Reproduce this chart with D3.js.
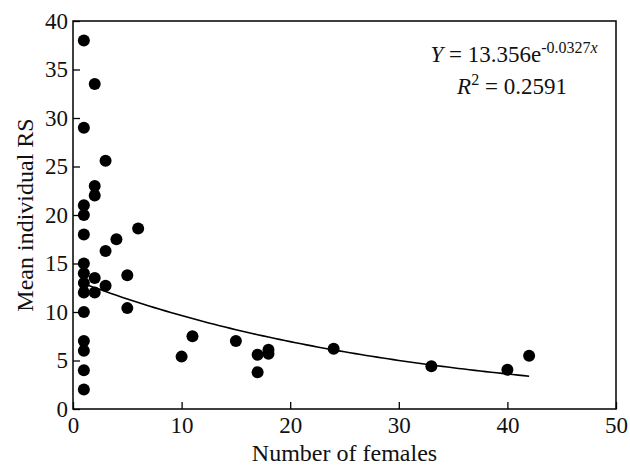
<!DOCTYPE html>
<html>
<head>
<meta charset="utf-8">
<script src="https://cdn.jsdelivr.net/npm/d3@7"></script>
<style>
  body { margin: 0; background: #fff; }
  svg { display: block; font-family: "Liberation Serif", "Times New Roman", serif; }
</style>
</head>
<body>
<svg id="chart" width="630" height="465"></svg>
<script>
// number of females per male and mean individual reproductive success
const females = [1, 1, 1, 1, 1, 1, 1, 1, 1, 1, 1, 1, 1, 1,
  2, 2, 2, 2, 2, 3, 3, 3, 4, 5, 5, 6,
  10, 11, 15, 17, 17, 18, 18, 24, 33, 40, 42];
const meanRS = [38, 29, 21, 20, 18, 15, 14, 13, 12, 10, 7, 6, 4, 2,
  33.5, 23, 22, 13.5, 12, 25.6, 16.3, 12.7, 17.5, 13.8, 10.4, 18.6,
  5.4, 7.5, 7.0, 5.6, 3.8, 6.1, 5.7, 6.2, 4.4, 4.05, 5.5];
const xTicks = [0, 10, 20, 30, 40, 50];
const yTicks = [0, 5, 10, 15, 20, 25, 30, 35, 40];

// exponential fit as printed on the chart
const fitA = 13.356;
const fitB = -0.0327;
const fitRange = [1, 42];

const svg = d3.select("#chart");
const margin = { top: 21, right: 14, bottom: 56, left: 73 };
const width = 630 - margin.left - margin.right;
const height = 465 - margin.top - margin.bottom;

const g = svg.append("g").attr("transform", `translate(${margin.left},${margin.top})`);

const x = d3.scaleLinear().domain([0, 50]).range([0, width]);
const y = d3.scaleLinear().domain([0, 40]).range([height, 0]);

// axes with inward ticks
const xAxis = g.append("g")
  .attr("transform", `translate(0,${height})`)
  .call(d3.axisBottom(x).tickValues(xTicks).tickSizeInner(-7).tickSizeOuter(0).tickPadding(8));
const yAxis = g.append("g")
  .call(d3.axisLeft(y).tickValues(yTicks).tickSizeInner(-7).tickSizeOuter(0).tickPadding(5));

[xAxis, yAxis].forEach((a) => {
  a.select(".domain").remove();
  a.selectAll("line").attr("stroke", "#000").attr("stroke-width", 1.3);
  a.selectAll("text")
    .attr("fill", "#111")
    .style("font-size", "23px")
    .style("font-family", '"Liberation Serif", serif');
});

// frame
g.append("rect")
  .attr("width", width)
  .attr("height", height)
  .attr("fill", "none")
  .attr("stroke", "#000")
  .attr("stroke-width", 1.5);

// fitted curve
const fitX = d3.range(fitRange[0], fitRange[1] + 0.001, 0.5);
const line = d3.line()
  .x((d) => x(d))
  .y((d) => y(fitA * Math.exp(fitB * d)));
g.append("path")
  .datum(fitX)
  .attr("d", line)
  .attr("fill", "none")
  .attr("stroke", "#000")
  .attr("stroke-width", 1.6);

// points
g.selectAll(".dot")
  .data(females.map((f, i) => ({ f, rs: meanRS[i] })))
  .enter()
  .append("circle")
  .attr("class", "dot")
  .attr("cx", (d) => x(d.f))
  .attr("cy", (d) => y(d.rs))
  .attr("r", 6)
  .attr("fill", "#000");

// equation
const eq = svg.append("g").attr("fill", "#111").style("font-size", "23px");
const l1 = eq.append("text").attr("x", 514).attr("y", 62).attr("text-anchor", "middle");
l1.append("tspan").style("font-style", "italic").text("Y");
l1.append("tspan").text(" = 13.356e");
const sup1 = l1.append("tspan").attr("dy", -9).style("font-size", "16px");
sup1.append("tspan").text("-0.0327");
sup1.append("tspan").style("font-style", "italic").text("x");

const l2 = eq.append("text").attr("x", 512).attr("y", 94).attr("text-anchor", "middle");
l2.append("tspan").style("font-style", "italic").text("R");
l2.append("tspan").attr("dy", -9).style("font-size", "16px").text("2");
l2.append("tspan").attr("dy", 9).text(" = 0.2591");

// axis titles
svg.append("text")
  .attr("x", margin.left + width / 2)
  .attr("y", 461)
  .attr("text-anchor", "middle")
  .attr("fill", "#111")
  .style("font-size", "24px")
  .text("Number of females");

svg.append("text")
  .attr("transform", `translate(33,${margin.top + height / 2}) rotate(-90)`)
  .attr("text-anchor", "middle")
  .attr("fill", "#111")
  .style("font-size", "24px")
  .text("Mean individual RS");
</script>
</body>
</html>
